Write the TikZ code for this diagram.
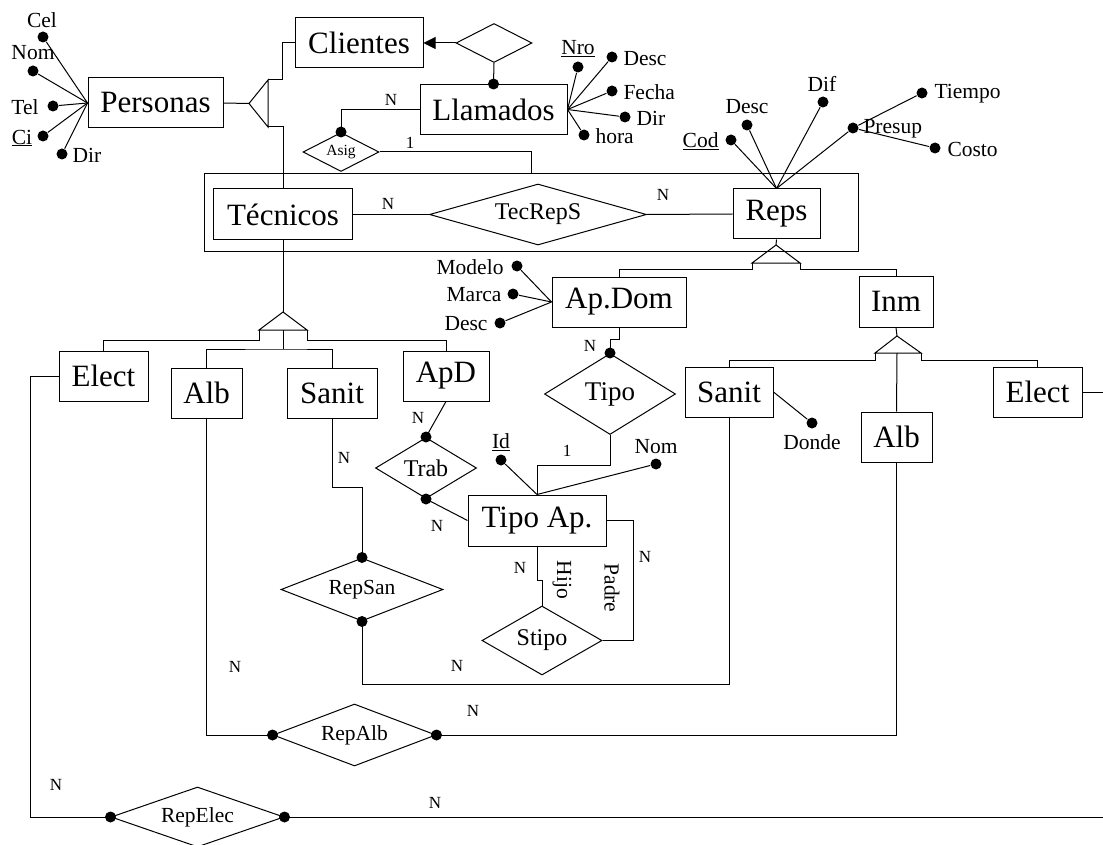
\documentclass[tikz,border=0pt]{standalone}
\usepackage{fontspec}
\setmainfont{Liberation Serif}
\usetikzlibrary{shapes.geometric,arrows.meta}
\begin{document}
\begin{tikzpicture}[x=1pt,y=-1pt, line width=1pt,
  ent/.style={draw, inner sep=0pt, font=\fontsize{31}{31}\selectfont},
  rel/.style={draw, diamond, inner sep=0pt},
  dot/.style={circle, fill, inner sep=0pt, minimum size=11pt},
  att/.style={inner sep=0pt, font=\fontsize{21.5}{22}\selectfont},
  card/.style={inner sep=0pt, font=\fontsize{17}{17}\selectfont}]
\useasboundingbox (0,0) rectangle (1103,845);

% ---------------- entities
\node[ent, minimum width=135pt, minimum height=50pt] (pers) at (155.5,103) {Personas};
\node[ent, minimum width=128pt, minimum height=50pt] (cli) at (359,43) {Clientes};
\node[ent, minimum width=147pt, minimum height=50pt] (llam) at (493.5,109.5) {Llamados};
\node[draw, inner sep=0pt, minimum width=654pt, minimum height=77pt] (agg) at (531,212.5) {};
\node[ent, minimum width=139pt, minimum height=51pt] (tec) at (283,214.5) {Técnicos};
\node[ent, minimum width=87pt, minimum height=50pt] (reps) at (776.5,214) {Reps};
\node[ent, minimum width=134pt, minimum height=50pt] (apdom) at (619,302) {Ap.Dom};
\node[ent, minimum width=74pt, minimum height=51pt] (inm) at (896,301.5) {Inm};
\node[ent, minimum width=89pt, minimum height=50pt] (electL) at (103.5,376) {Elect};
\node[ent, minimum width=71pt, minimum height=50pt] (albL) at (206.5,393) {Alb};
\node[ent, minimum width=90pt, minimum height=50pt] (sanitL) at (332,393) {Sanit};
\node[ent, minimum width=86pt, minimum height=50pt] (apd) at (446,376) {ApD};
\node[ent, minimum width=138pt, minimum height=51pt] (tipoap) at (537,520.5) {Tipo Ap.};
\node[ent, minimum width=88pt, minimum height=50pt] (sanitR) at (729,392) {Sanit};
\node[ent, minimum width=71pt, minimum height=50pt] (albR) at (896.5,437) {Alb};
\node[ent, minimum width=89pt, minimum height=50pt] (electR) at (1037.5,392) {Elect};

% ---------------- relationships
\node[rel, minimum width=76pt, minimum height=39pt, aspect=1.95] (dcli) at (494,43) {};
\node[rel, minimum width=76pt, minimum height=39pt, aspect=1.95, font=\fontsize{15.5}{16}\selectfont] (asig) at (341,152) {Asig};
\node[rel, minimum width=217pt, minimum height=61pt, aspect=3.5, font=\fontsize{24}{24}\selectfont] (tecreps) at (538,214.5) {TecRepS};
\node[rel, minimum width=131pt, minimum height=81pt, aspect=1.6, font=\fontsize{27}{27}\selectfont] (tipo) at (610,394) {Tipo};
\node[rel, minimum width=101pt, minimum height=61pt, aspect=1.65, font=\fontsize{24}{24}\selectfont] (trab) at (426,468) {Trab};
\node[rel, minimum width=120pt, minimum height=69pt, aspect=1.74, font=\fontsize{24}{24}\selectfont] (stipo) at (542,640.5) {Stipo};
\node[rel, minimum width=162pt, minimum height=63pt, aspect=2.57, font=\fontsize{21.5}{22}\selectfont] (repsan) at (362,589.5) {RepSan};
\node[rel, minimum width=163pt, minimum height=62pt, aspect=2.6, font=\fontsize{21.5}{22}\selectfont] (repalb) at (354.5,735) {RepAlb};
\node[rel, minimum width=173pt, minimum height=60pt, aspect=2.9, font=\fontsize{21.5}{22}\selectfont] (repelec) at (197.5,817) {RepElec};

% ---------------- Personas attributes
\node[dot] (pcel) at (43,37) {};
\node[dot] (pnom) at (33,71) {};
\node[dot] (ptel) at (53,106) {};
\node[dot] (pci) at (43,136) {};
\node[dot] (pdir) at (62,154) {};
\node[att] (lcel) at (42,20) {Cel};
\node[att] (lnom) at (33,53) {Nom};
\node[att] (ltel) at (25,107) {Tel};
\node[att] (lci) at (22,138) {\underline{Ci}};
\node[att, anchor=west] (lpdir) at (72,155) {Dir};
\foreach \a in {pcel,pnom,ptel,pci,pdir} \draw (\a) -- (pers.west);

% ---------------- Personas ISA
\coordinate (pTip) at (249,103.5);
\coordinate (pTop) at (268,80);
\coordinate (pBot) at (268,127);
\draw (pers.east) -- (pTip);
\draw (pTip) -- (pTop) -- (pBot) -- cycle;
\draw (pTop) -- ++(14,0) |- (cli.west);
\draw (pBot) -| (tec.north);

% ---------------- Clientes / Llamados
\draw[-{Triangle[length=12pt,width=12pt]}] (dcli.west) -- (cli.east);
\draw (dcli.south) -- (llam.north);
\node[dot] (llamdot) at (llam.north) {};

\node[dot] (lnro) at (578,67) {};
\node[dot] (ldesc) at (612,57) {};
\node[dot] (lfecha) at (612,91) {};
\node[dot] (ldir) at (625,117) {};
\node[dot] (lhora) at (584,135) {};
\node[att] (tnro) at (578,49) {\underline{Nro}};
\node[att, anchor=west] (tldesc) at (623,59) {Desc};
\node[att, anchor=west] (tfecha) at (623,92) {Fecha};
\node[att, anchor=west] (tldir) at (636,118) {Dir};
\node[att, anchor=west] (thora) at (595,136) {hora};
\foreach \a in {lnro,ldesc,lfecha,ldir,lhora} \draw (\a) -- (llam.east);

% ---------------- Asig
\draw (asig.north) |- (llam.west);
\node[dot] (asigdot) at (asig.north) {};
\draw (asig.east) -| (agg.north);
\node[card] at (391,100) {N};
\node[card] at (410,143) {1};

% ---------------- TecRepS
\draw (tec.east) -- (tecreps.west);
\draw (tecreps.east) -- (reps.west);
\node[card] at (388,204) {N};
\node[card] at (663,195) {N};

% ---------------- Reps attributes
\node[dot] (rcod) at (731,140) {};
\node[dot] (rdesc) at (747,125) {};
\node[dot] (rdif) at (823,102) {};
\node[dot] (rpresup) at (853,128) {};
\node[dot] (rtiempo) at (922,93) {};
\node[dot] (rcosto) at (935,148) {};
\node[att, anchor=east] (tcod) at (719,141) {\underline{Cod}};
\node[att] (trdesc) at (747,107) {Desc};
\node[att] (tdif) at (822,84) {Dif};
\node[att, anchor=west] (tpresup) at (863,129) {Presup};
\node[att, anchor=west] (ttiempo) at (934,94) {Tiempo};
\node[att, anchor=west] (tcosto) at (947,149) {Costo};
\foreach \a in {rcod,rdesc,rdif,rpresup} \draw (\a) -- (reps.north);
\draw (rpresup) -- (rtiempo);
\draw (rpresup) -- (rcosto);

% ---------------- Reps ISA
\coordinate (rApex) at (776,245);
\coordinate (rL) at (752,263);
\coordinate (rR) at (800,263);
\draw (reps.south) -- (rApex);
\draw (rApex) -- (rL) -- (rR) -- cycle;
\draw (rL) -- ++(0,6) -| (apdom.north);
\draw (rR) -- ++(0,6) -| (inm.north);

% ---------------- Ap.Dom attributes
\node[dot] (amodelo) at (517,266) {};
\node[dot] (amarca) at (513,294) {};
\node[dot] (adesc) at (500,323) {};
\node[att, anchor=east] (tmodelo) at (504,267) {Modelo};
\node[att, anchor=east] (tmarca) at (502,295) {Marca};
\node[att, anchor=east] (tadesc) at (488,324) {Desc};
\foreach \a in {amodelo,amarca,adesc} \draw (\a) -- (apdom.west);

% ---------------- Tipo
\draw (apdom.south) -- ++(0,12) -| (tipo.north);
\node[dot] (tipodot) at (tipo.north) {};
\draw (tipo.south) -- ++(0,30) -| (tipoap.north);
\node[card] at (590,346) {N};
\node[card] at (567,451) {1};

% ---------------- Tipo Ap. attributes
\node[dot] (tid) at (501,460) {};
\node[dot] (tnom) at (656,464) {};
\node[att] (ltid) at (501,442) {\underline{Id}};
\node[att] (ltnom) at (656,447) {Nom};
\draw (tid) -- (tipoap.north);
\draw (tnom) -- (tipoap.north);

% ---------------- Tecnicos ISA
\coordinate (tApex) at (283,312);
\coordinate (tL) at (259,330);
\coordinate (tR) at (307,330);
\coordinate (tM) at (283,330);
\draw (tec.south) -- (tApex);
\draw (tApex) -- (tL) -- (tR) -- cycle;
\draw (tL) -- ++(0,10) -| (electL.north);
\draw (tR) -- ++(0,10) -| (apd.north);
\draw (tM) -- ++(0,19) coordinate (tMb);
\draw (albL.north) |- (tMb) -| (sanitL.north);

% ---------------- Trab
\draw (apd.south) -- (trab.north);
\node[dot] (trabt) at (trab.north) {};
\draw (trab.south) -- (tipoap.west);
\node[dot] (trabb) at (trab.south) {};
\node[card] at (418,418) {N};
\node[card] at (437,526) {N};

% ---------------- Stipo
\draw (tipoap.south) -- ++(0,34) -| (stipo.north);
\draw (tipoap.east) -- ++(27,0) |- (stipo.east);
\node[card] at (520,568) {N};
\node[card] at (645,557) {N};
\node[att, rotate=-90] at (562,580) {Hijo};
\node[att, rotate=-90] at (612,588) {Padre};

% ---------------- Inm ISA
\coordinate (iApex) at (897,336);
\coordinate (iL) at (875,353);
\coordinate (iR) at (921,353);
\coordinate (iM) at (897,353);
\draw (inm.south) -- (iApex);
\draw (iApex) -- (iL) -- (iR) -- cycle;
\draw (iL) -- ++(0,7) -| (sanitR.north);
\draw (iR) -- ++(0,7) -| (electR.north);
\draw (iM) -- (albR.north);

% ---------------- Donde
\node[dot] (donde) at (812,423) {};
\node[att] (tdonde) at (812,442) {Donde};
\draw (sanitR.east) -- (donde);

% ---------------- RepSan
\draw (sanitL.south) -- ++(0,69) -| (repsan.north);
\node[dot] (rsant) at (repsan.north) {};
\draw (repsan.south) -- ++(0,63) -| (sanitR.south);
\node[dot] (rsanb) at (repsan.south) {};
\node[card] at (344,458) {N};
\node[card] at (457,666) {N};

% ---------------- RepAlb
\draw (albL.south) |- (repalb.west);
\draw (repalb.east) -| (albR.south);
\node[dot] (ralbl) at (repalb.west) {};
\node[dot] (ralbr) at (repalb.east) {};
\node[card] at (235,667) {N};
\node[card] at (473,711) {N};

% ---------------- RepElec
\coordinate (eEdgeR) at (1103,817);
\coordinate (eEdgeT) at (1103,392);
\draw (electL.west) -- ++(-28,0) |- (repelec.west);
\draw (repelec.east) -- (eEdgeR);
\draw (electR.east) -- (eEdgeT);
\node[dot] (relecl) at (repelec.west) {};
\node[dot] (releco) at (repelec.east) {};
\node[card] at (56,785) {N};
\node[card] at (435,803) {N};
\end{tikzpicture}
\end{document}
